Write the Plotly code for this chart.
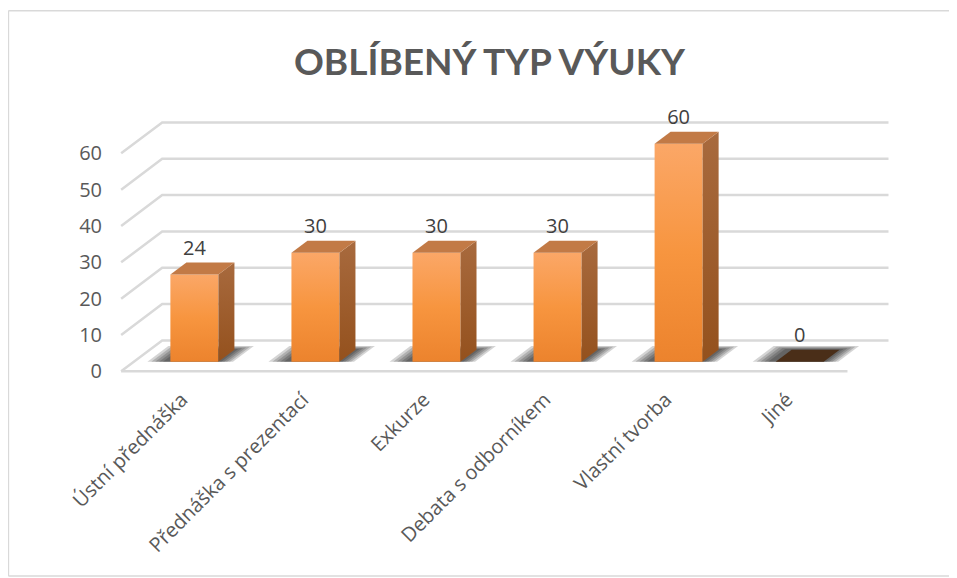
import plotly.graph_objects as go

# ---------------- data ----------------
categories = ["Ústní přednáška", "Přednáška s prezentací", "Exkurze",
              "Debata s odborníkem", "Vlastní tvorba", "Jiné"]
values = [24, 30, 30, 30, 60, 0]
y_ticks = [0, 10, 20, 30, 40, 50, 60]
title_text = "OBLÍBENÝ TYP VÝUKY"

# ---------------- geometry (pseudo 3D) ----------------
OFF = 8                  # page body margin of the html page
W, H = 957, 578 - OFF
PX_X = 121.0      # pixels per category step
PX_Y = 3.645      # pixels per value unit
X0_PX = 182.0 - OFF     # figure x of category 0 on the front floor edge
Y0_PX = 371.7 - OFF     # figure y of value 0 on the front floor edge

DX = 41 / PX_X    # depth of the chart box (x units)
DY = 31 / PX_Y    # depth of the chart box (y units)
F0, F1 = 0.31, 0.70   # bar front/back position as fraction of depth
BW = 48 / PX_X        # bar width

x_range = [-0.65, 6.0]
y_range = [-1.0, 70.0]
left = X0_PX + x_range[0] * PX_X
right = X0_PX + x_range[1] * PX_X
top = Y0_PX - y_range[1] * PX_Y
bottom = Y0_PX - y_range[0] * PX_Y

n = len(categories)
xa, xb = -0.5, n - 0.5

fig = go.Figure()

# gridlines: diagonal on the left side wall + horizontal on back wall
gx, gy = [], []
for t in y_ticks:
    gx += [xa, xa + DX, xb + DX, None]
    gy += [t, t + DY, t + DY, None]
gx += [xa, xb, None]
gy += [0, 0, None]
fig.add_trace(go.Scatter(x=gx, y=gy, mode="lines",
                         line=dict(color="#D9D9D9", width=2.5),
                         hoverinfo="skip", showlegend=False))

# soft shadows on the floor
for i, v in enumerate(values):
    x0 = i - BW / 2 + F0 * DX
    x1 = x0 + BW
    for k in [1.0, 0.8, 0.6, 0.4, 0.2]:
        sl = 0.16 * k + 0.03
        sr = 0.12 * k
        fa, fb = F0, F1 + 0.12 * k
        sx0, sx1 = x0 - sl, x1 + sr
        px = [sx0, sx1, sx1 + (fb - fa) * DX, sx0 + (fb - fa) * DX, sx0]
        py = [fa * DY, fa * DY, fb * DY, fb * DY, fa * DY]
        fig.add_trace(go.Scatter(x=px, y=py, mode="lines", fill="toself",
                                 fillcolor="rgba(0,0,0,0.17)",
                                 line=dict(width=0), hoverinfo="skip",
                                 showlegend=False))

# bars
dDX = (F1 - F0) * DX
dDY = (F1 - F0) * DY
for i, v in enumerate(values):
    x0 = i - BW / 2 + F0 * DX
    x1 = x0 + BW
    yb = F0 * DY
    yt = v + F0 * DY
    if v > 0:
        # front face
        fig.add_trace(go.Scatter(
            x=[x0, x1, x1, x0, x0], y=[yb, yb, yt, yt, yb],
            mode="lines", fill="toself", line=dict(width=0),
            fillgradient=dict(type="vertical",
                              colorscale=[[0, "#EC832D"], [0.5, "#F7953F"], [1, "#FBA767"]]),
            hoverinfo="skip", showlegend=False))
        # right side face
        fig.add_trace(go.Scatter(
            x=[x1, x1 + dDX, x1 + dDX, x1, x1],
            y=[yb, yb + dDY, yt + dDY, yt, yb],
            mode="lines", fill="toself", line=dict(width=0),
            fillgradient=dict(type="vertical",
                              colorscale=[[0, "#94511D"], [1, "#A86A3E"]]),
            hoverinfo="skip", showlegend=False))
        top_col = "#C27A46"
    else:
        top_col = "#4A2E18"
    # top face
    fig.add_trace(go.Scatter(
        x=[x0, x1, x1 + dDX, x0 + dDX, x0],
        y=[yt, yt, yt + dDY, yt + dDY, yt],
        mode="lines", fill="toself", fillcolor=top_col, line=dict(width=0),
        hoverinfo="skip", showlegend=False))

# data labels
lab_x = [i + F0 * DX for i in range(n)]
lab_y = [v + F0 * DY + 25 / PX_Y for v in values]
fig.add_trace(go.Scatter(
    x=lab_x, y=lab_y, mode="text", text=[str(v) for v in values],
    textposition="middle center", cliponaxis=False,
    textfont=dict(family="Open Sans", size=20, color="#404040"),
    hoverinfo="skip", showlegend=False))


def px2paper_x(p):
    return (p - left) / (right - left)


def px2paper_y(p):
    return (bottom - p) / (bottom - top)


border = dict(color="#D9D9D9", width=1.5)
shapes = [
    dict(type="line", xref="paper", yref="paper", layer="below",
         x0=px2paper_x(0.8), x1=px2paper_x(0.8), y0=px2paper_y(2), y1=px2paper_y(569), line=border),
    dict(type="line", xref="paper", yref="paper", layer="below",
         x0=px2paper_x(0.8), x1=px2paper_x(W + 20), y0=px2paper_y(2), y1=px2paper_y(2), line=border),
    dict(type="line", xref="paper", yref="paper", layer="below",
         x0=px2paper_x(0.8), x1=px2paper_x(W + 20), y0=px2paper_y(569), y1=px2paper_y(569), line=border),
]

fig.update_layout(
    width=W, height=H,
    margin=dict(l=left, r=W - right, t=top, b=H - bottom, pad=0),
    paper_bgcolor="white", plot_bgcolor="rgba(0,0,0,0)",
    title=dict(text=title_text, xref="container", yref="container",
               x=(489.5 - OFF) / W, y=1 - (62.5 - OFF) / H,
               xanchor="center", yanchor="middle",
               font=dict(family="Lato", size=37, color="#595959", weight="bold")),
    xaxis=dict(range=x_range, tickvals=list(range(n)), ticktext=categories,
               tickangle=-45, showgrid=False, zeroline=False, showline=False,
               ticks="", automargin=False, fixedrange=True, ticklabelstandoff=8,
               tickfont=dict(family="Open Sans", size=20, color="#595959")),
    yaxis=dict(range=y_range, tickvals=y_ticks, showgrid=False, zeroline=False,
               showline=False, ticks="", automargin=False, fixedrange=True,
               tickfont=dict(family="Open Sans", size=20, color="#595959")),
    shapes=shapes,
)

fig.write_html("out.html")
